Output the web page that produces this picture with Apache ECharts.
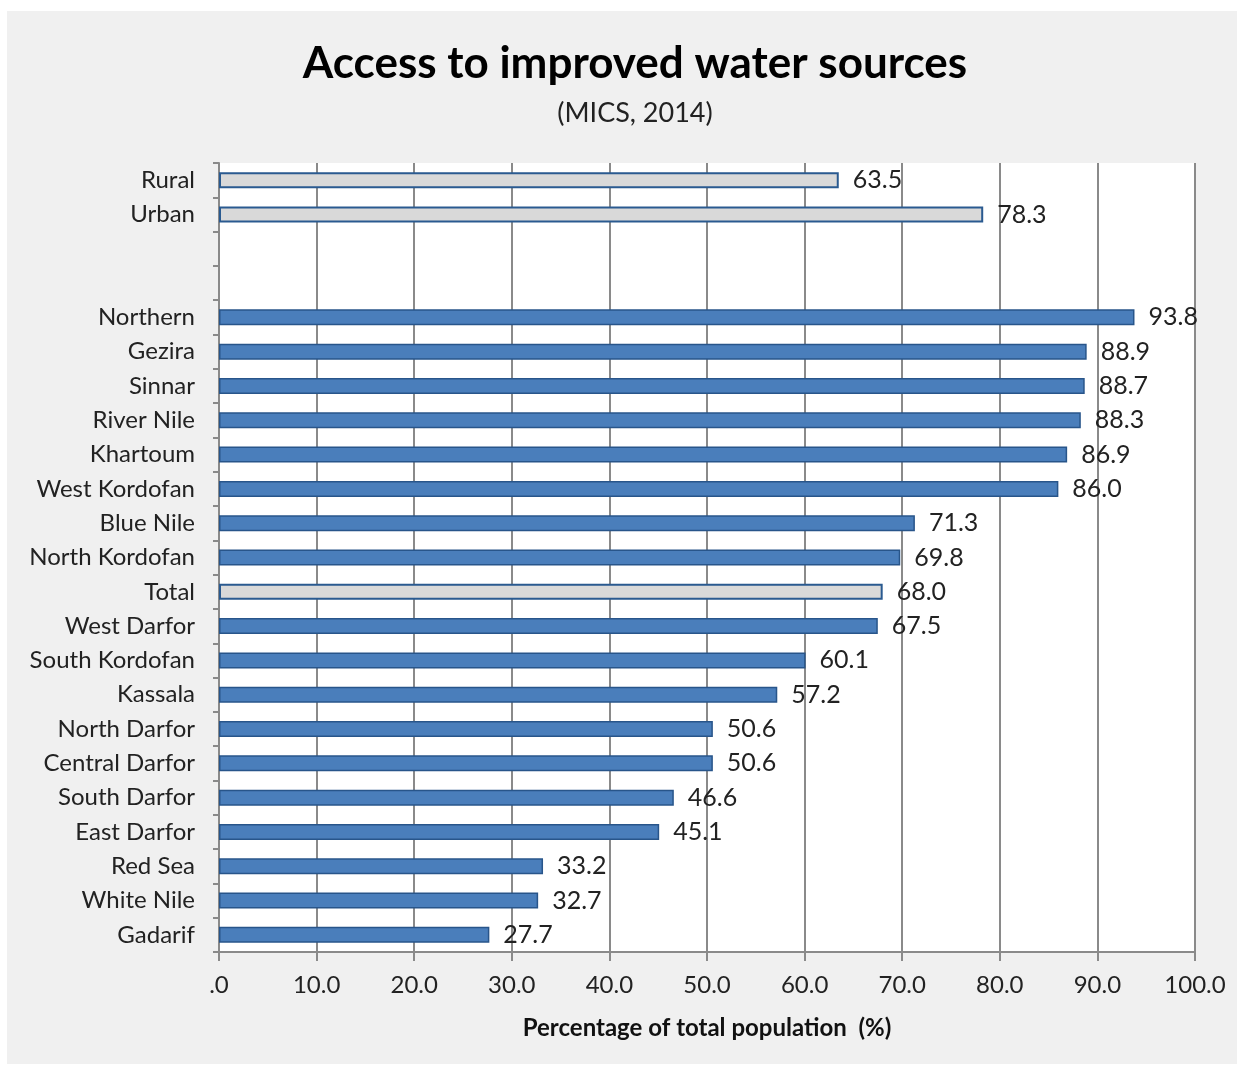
<!DOCTYPE html>
<html>
<head>
<meta charset="utf-8">
<script src="https://cdn.jsdelivr.net/npm/echarts@6/dist/echarts.min.js"></script>
<style>
  html, body { margin: 0; padding: 0; background: #ffffff; }
  #panel { position: absolute; left: 7px; top: 11px; width: 1230px; height: 1053px; background: #f0f0f0; }
  #chart { position: absolute; left: 0; top: 0; width: 1242px; height: 1066px; }
</style>
</head>
<body>
<div id="panel"></div>
<div id="chart"></div>
<script>
// Regions / areas, top to bottom; the two blank entries form the gap
const categories = [
  'Rural', 'Urban', ' ', '  ',
  'Northern', 'Gezira', 'Sinnar', 'River Nile', 'Khartoum', 'West Kordofan',
  'Blue Nile', 'North Kordofan', 'Total', 'West Darfor', 'South Kordofan',
  'Kassala', 'North Darfor', 'Central Darfor', 'South Darfor', 'East Darfor',
  'Red Sea', 'White Nile', 'Gadarif'
];
const values = [
  63.5, 78.3, null, null,
  93.8, 88.9, 88.7, 88.3, 86.9, 86.0,
  71.3, 69.8, 68.0, 67.5, 60.1,
  57.2, 50.6, 50.6, 46.6, 45.1,
  33.2, 32.7, 27.7
];
// Aggregate rows drawn in light grey
const summaryRows = ['Rural', 'Urban', 'Total'];
const xTicks = [0, 10, 20, 30, 40, 50, 60, 70, 80, 90, 100];

const font = 'Lato, "Open Sans", "Noto Sans", sans-serif';

const barData = values.map((v, i) => ({
  value: v,
  itemStyle: summaryRows.includes(categories[i])
    ? { color: '#d9d9d9', borderColor: '#2a5a90', borderWidth: 2 }
    : { color: '#4a7ebb', borderColor: '#28558a', borderWidth: 1.5 }
}));

const chart = echarts.init(document.getElementById('chart'));
chart.setOption({
  backgroundColor: 'transparent',
  title: [
    {
      text: 'Access to improved water sources',
      left: 630, textAlign: 'center', top: 37,
      textStyle: { fontFamily: font, fontSize: 44, fontWeight: 'bold', color: '#000' }
    },
    {
      text: '(MICS, 2014)',
      left: 630, textAlign: 'center', top: 95,
      textStyle: { fontFamily: font, fontSize: 27, fontWeight: 'normal', color: '#222' }
    }
  ],
  grid: {
    left: 219, right: 47, top: 163, bottom: 114,
    show: true, backgroundColor: '#ffffff', borderWidth: 0
  },
  xAxis: {
    type: 'value',
    min: xTicks[0], max: xTicks[xTicks.length - 1], interval: 10,
    name: 'Percentage of total population  (%)',
    nameLocation: 'middle', nameGap: 64,
    nameTextStyle: { fontFamily: font, fontSize: 24, fontWeight: 'bold', color: '#111' },
    axisLine: { show: true, lineStyle: { color: '#8a8a8a', width: 2 } },
    axisTick: { show: true, length: 9, lineStyle: { color: '#8a8a8a', width: 2 } },
    axisLabel: {
      fontFamily: font, fontSize: 24, color: '#222', margin: 21,
      formatter: v => (v === 0 ? '.0' : v.toFixed(1))
    },
    splitLine: { show: true, lineStyle: { color: '#8a8a8a', width: 2 } }
  },
  yAxis: {
    type: 'category',
    data: categories,
    inverse: true,
    axisLine: { show: true, lineStyle: { color: '#8a8a8a', width: 2 } },
    axisTick: { show: true, length: 6, lineStyle: { color: '#8a8a8a', width: 2 } },
    axisLabel: { fontFamily: font, fontSize: 24, color: '#222', margin: 24 },
    splitLine: { show: false }
  },
  series: [{
    type: 'bar',
    data: barData,
    barWidth: 16,
    label: {
      show: true, position: 'right', distance: 14,
      fontFamily: font, fontSize: 25, color: '#222',
      formatter: p => (p.value == null ? '' : p.value.toFixed(1))
    },
    animation: false
  }]
});
</script>
</body>
</html>
